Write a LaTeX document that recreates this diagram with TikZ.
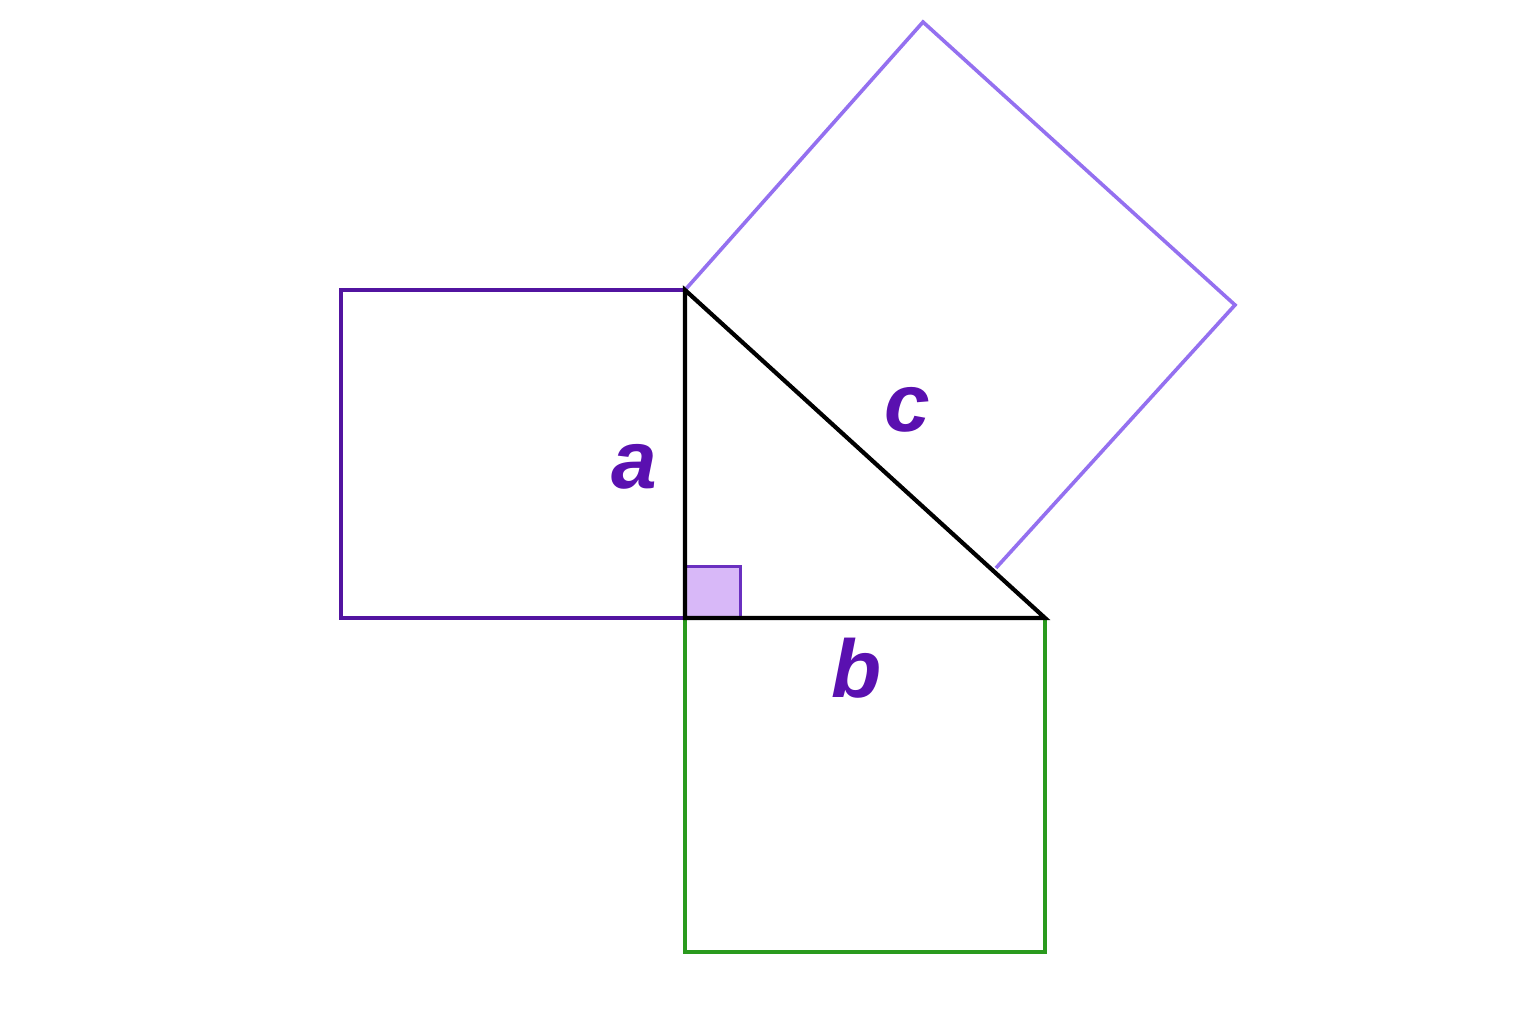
\documentclass[tikz,border=0pt]{standalone}
\usepackage{fontspec}
\setmainfont{Liberation Sans}
\definecolor{darkpurple}{HTML}{5A10B0}
\definecolor{sqpurple}{HTML}{5214A0}
\definecolor{lightpurple}{HTML}{9470F0}
\definecolor{sqgreen}{HTML}{2A9A1E}
\definecolor{markfill}{HTML}{D8B8F8}
\definecolor{markline}{HTML}{6A30C0}
\begin{document}
\begin{tikzpicture}[x=1pt,y=-1pt,
  lbl/.style={font=\fontsize{82}{82}\selectfont\bfseries\itshape, text=darkpurple, anchor=base, inner sep=0pt},
  sqline/.style={line width=3.6pt, line join=miter}]
\useasboundingbox (0,0) rectangle (1536,1024);
\fill[white] (0,0) rectangle (1536,1024);
\coordinate (C) at (685,618);
\coordinate (A) at (685,290);
\coordinate (B) at (1045,618);
\coordinate (H1) at (923,22);
\coordinate (H2) at (1235,305);
\coordinate (H3) at (996,568);
\coordinate (L1) at (341,290);
\coordinate (L2) at (341,618);
\coordinate (G1) at (685,952);
\coordinate (G2) at (1045,952);
\coordinate (M1) at (685,566);
\coordinate (M2) at (740,566);
\coordinate (M3) at (740,618);
% left square
\draw[sqline, sqpurple] (A) -- (L1) -- (L2) -- (C);
% bottom square
\draw[sqline, sqgreen] (C) -- (G1) -- (G2) -- (B);
% hypotenuse square
\draw[sqline, lightpurple] (A) -- (H1) -- (H2) -- (H3);
% right angle marker
\filldraw[fill=markfill, draw=markline, line width=3pt] (C) -- (M1) -- (M2) -- (M3) -- cycle;
% triangle
\draw[line width=4.2pt, line join=miter, black] (A) -- (C) -- (B) -- cycle;
% labels
\node[lbl] (la) at (634,488) {a};
\node[lbl] (lb) at (857,697) {b};
\node[lbl] (lc) at (907,431) {c};
\end{tikzpicture}
\end{document}
